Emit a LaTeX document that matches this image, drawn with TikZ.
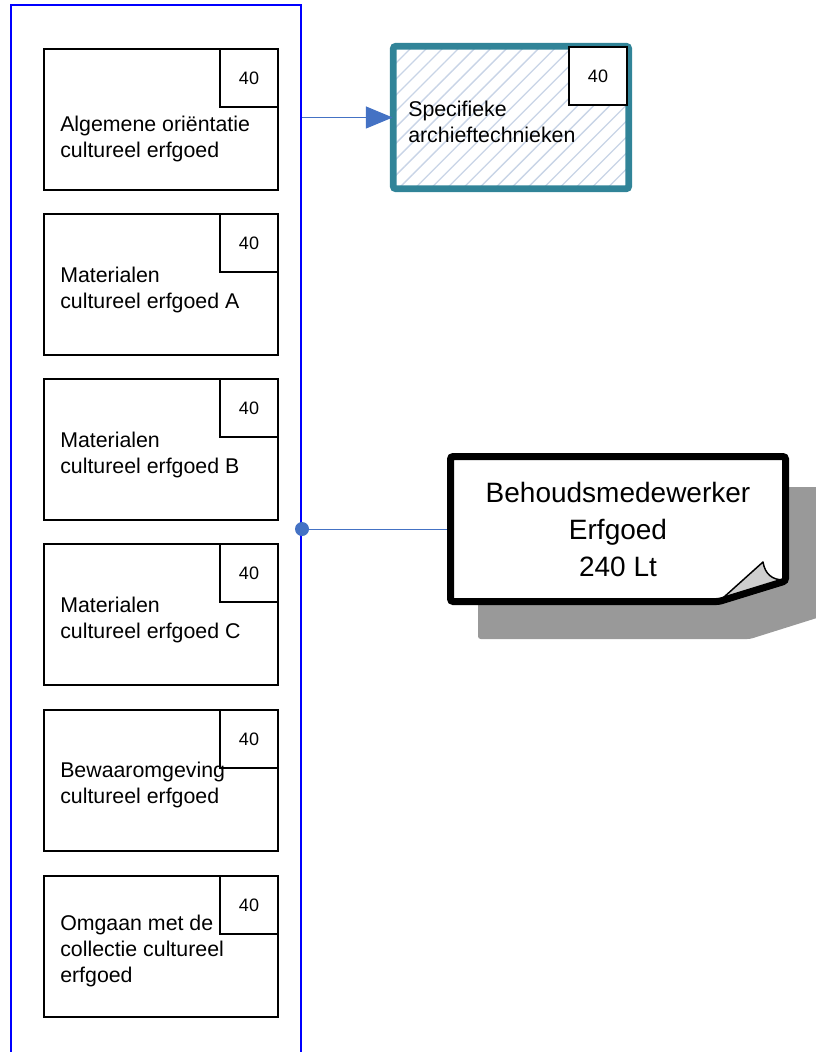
\documentclass[tikz,border=0pt]{standalone}
\usepackage{fontspec}
\setmainfont{Liberation Sans}
\usetikzlibrary{arrows.meta,patterns.meta}

\definecolor{lanecol}{RGB}{0,0,255}
\definecolor{linkcol}{RGB}{68,114,196}
\definecolor{tealcol}{RGB}{49,132,152}
\definecolor{hatchcol}{RGB}{200,212,230}
\definecolor{shadecol}{RGB}{153,153,153}
\definecolor{foldcol}{RGB}{206,206,206}

\begin{document}
\begin{tikzpicture}[x=0.75pt,y=-0.75pt,
    lanebox/.style={draw=lanecol,line width=1.5pt,minimum width=217.5pt,minimum height=798pt,inner sep=0pt,anchor=north west},
    course/.style={draw,line width=1.5pt,fill=white,minimum width=175.5pt,minimum height=105.75pt,inner sep=0pt,anchor=north west},
    hours/.style={draw,line width=1.5pt,fill=white,minimum size=43.5pt,inner sep=0pt,anchor=north east,font=\fontsize{13.5}{16}\selectfont},
    coursetext/.style={anchor=west,align=left,inner sep=0pt,font=\fontsize{16}{19.5}\selectfont},
    flow/.style={draw=linkcol,line width=0.75pt,-{Triangle[length=20pt,width=16.5pt,fill=linkcol]}},
    link/.style={draw=linkcol,line width=0.75pt}]
  \clip (0,0) rectangle (816,1052);

  % swimlane
  \node[lanebox] (lane) at (10,4) {};

  % courses in the lane
  \node[course] (b1) at (43,48) {};
  \node[hours] (h1) at (b1.north east) {40};
  \node[coursetext] (t1) at (60,139) {Algemene oriëntatie\\cultureel erfgoed};

  \node[course] (b2) at (43,213) {};
  \node[hours] (h2) at (b2.north east) {40};
  \node[coursetext] (t2) at (60,290) {Materialen\\cultureel erfgoed A};

  \node[course] (b3) at (43,378) {};
  \node[hours] (h3) at (b3.north east) {40};
  \node[coursetext] (t3) at (60,455) {Materialen\\cultureel erfgoed B};

  \node[course] (b4) at (43,543) {};
  \node[hours] (h4) at (b4.north east) {40};
  \node[coursetext] (t4) at (60,620) {Materialen\\cultureel erfgoed C};

  \node[course] (b5) at (43,709) {};
  \node[hours] (h5) at (b5.north east) {40};
  \node[coursetext] (t5) at (60,785) {Bewaaromgeving\\cultureel erfgoed};

  \node[course] (b6) at (43,875) {};
  \node[hours] (h6) at (b6.north east) {40};
  \node[coursetext] (t6) at (60,951) {Omgaan met de\\collectie cultureel\\erfgoed};

  % follow-up course
  \node[draw=tealcol,line width=5.1pt,rounded corners=2pt,
        pattern={Lines[angle=45,distance=8.5pt,line width=1pt]},pattern color=hatchcol,
        minimum width=176.6pt,minimum height=106.9pt,inner sep=0pt] (sp) at (511,117.5) {};
  \node[hours] (hs) at (628,46) {40};
  \node[coursetext] (ts) at (408,122) {Specifieke\\archieftechnieken};

  % role note with shadow
  \fill[shadecol,rounded corners=2pt] (478,487) -- (820,487) -- (820,617) -- (750,639) -- (478,639) -- cycle;
  \fill[white] (450.5,456.5) -- (785.5,456.5) -- (785.5,581) -- (719,601.5) -- (450.5,601.5) -- cycle;
  \filldraw[fill=foldcol,line width=1.1pt,line join=round] (719,601.5) -- (763,562)
    .. controls (765,574) and (772,580) .. (784,580) -- cycle;
  \draw[line width=5.25pt,rounded corners=2pt] (450.5,456.5) -- (785.5,456.5) -- (785.5,581) -- (719,601.5) -- (450.5,601.5) -- cycle;
  \node[minimum width=256.5pt,minimum height=114pt,inner sep=0pt,align=center,
        font=\fontsize{21}{27.75}\selectfont] (role) at (618,529) {Behoudsmedewerker\\Erfgoed\\240 Lt};

  % connectors
  \coordinate (tap) at (lane.east |- role.west);
  \draw[flow] (lane.east |- sp.west) -- (sp.west);
  \draw[link] (tap) -- (role.west);
  \fill[linkcol] (tap) circle (5.25pt);
\end{tikzpicture}
\end{document}
